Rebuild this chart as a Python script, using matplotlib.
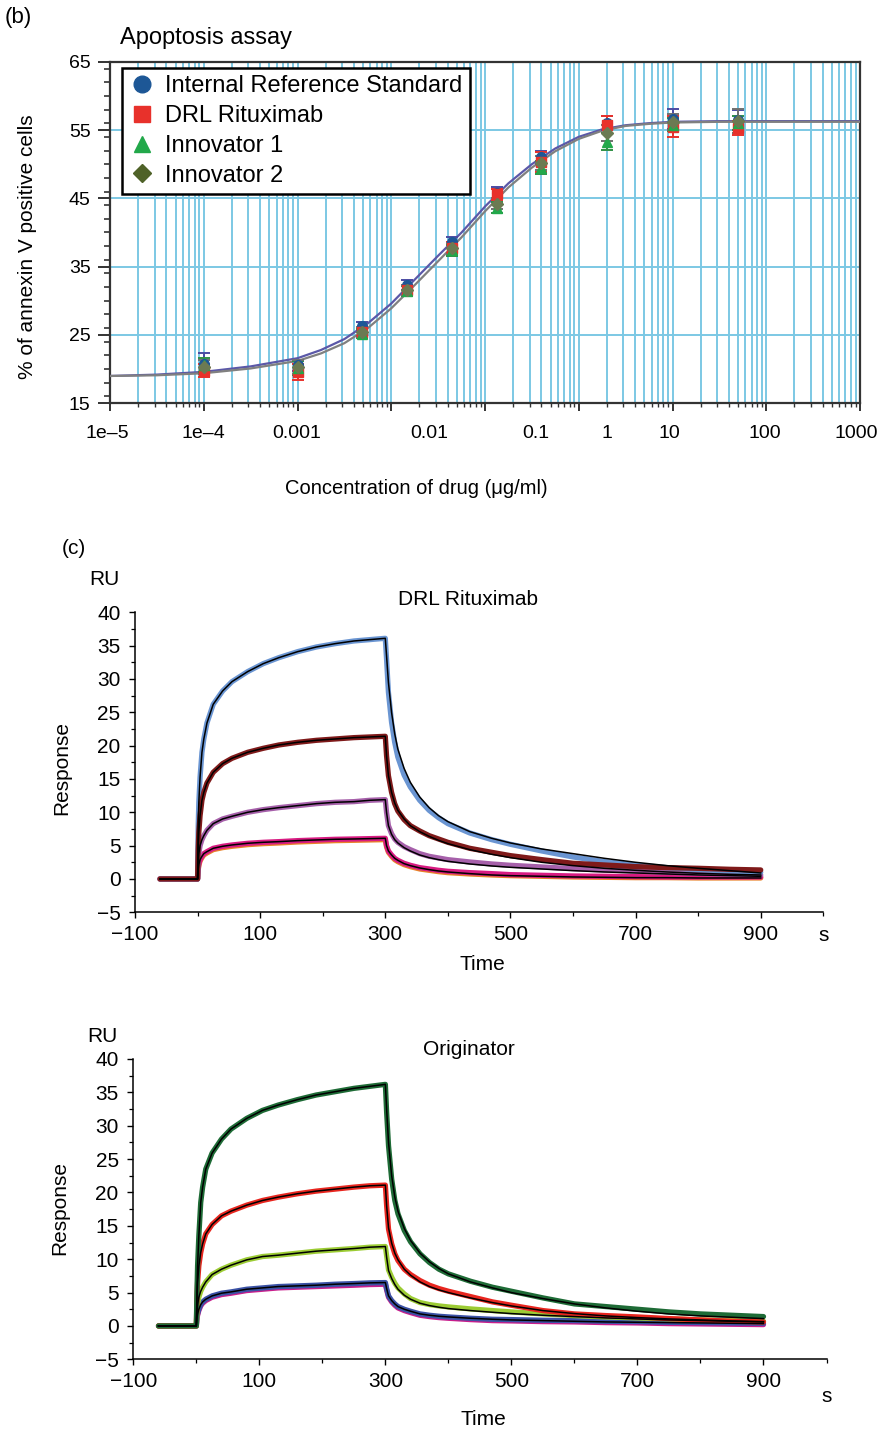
import numpy as np
import matplotlib
matplotlib.use('Agg')
import matplotlib.pyplot as plt
import matplotlib.transforms as mtransforms
from matplotlib.ticker import LogLocator, NullFormatter, MultipleLocator, FixedLocator
from matplotlib.lines import Line2D

plt.rcParams['font.family'] = ['Liberation Sans', 'DejaVu Sans']

# ---------------- (b) apoptosis assay ----------------
conc = [1e-4, 1e-3, 0.0049, 0.0148, 0.044, 0.133, 0.4, 2, 10, 50]
irs = [20.8, 20.6, 26.3, 32.3, 38.6, 45.8, 51.0, 56.0, 56.6, 56.5]
irs_err = [1.5, 0.8, 0.6, 0.7, 0.8, 0.8, 1.0, 1.0, 1.5, 1.5]
drl = [19.8, 19.6, 25.5, 31.6, 37.8, 45.6, 50.3, 55.8, 55.5, 55.3]
drl_err = [1.0, 1.2, 0.7, 0.7, 0.8, 0.8, 1.5, 1.2, 1.5, 1.0]
inno1 = [20.6, 20.2, 25.2, 31.4, 37.4, 43.6, 49.5, 53.3, 55.8, 56.0]
inno1_err = [1.0, 1.0, 0.7, 0.7, 0.8, 0.8, 1.0, 1.2, 1.0, 1.0]
inno2 = [20.3, 20.3, 25.4, 31.6, 37.7, 44.2, 50.2, 54.6, 56.2, 56.3]
inno2_err = [1.0, 1.0, 0.7, 0.7, 0.8, 0.8, 1.0, 1.2, 1.2, 1.8]

fit_logx = [-5, -4.5, -4, -3.5, -3, -2.75, -2.5, -2.25, -2, -1.75, -1.5, -1.25,
            -1, -0.75, -0.5, -0.25, 0, 0.25, 0.5, 0.75, 1, 1.5, 2, 3]
fit_upper = [19.0, 19.2, 19.6, 20.4, 21.6, 22.8, 24.4, 26.7, 29.6, 33.1, 36.6, 40.0,
             43.8, 47.2, 50.0, 52.3, 54.0, 55.1, 55.7, 56.0, 56.2, 56.3, 56.3, 56.3]
fit_lower = [19.0, 19.1, 19.4, 20.1, 21.2, 22.3, 23.8, 26.0, 28.9, 32.3, 35.8, 39.3,
             43.1, 46.6, 49.5, 51.9, 53.7, 54.9, 55.6, 55.9, 56.1, 56.2, 56.2, 56.2]

xtick_text = ['1e–5', '1e–4', '0.001', '0.01', '0.1', '1', '10', '100', '1000']
xtick_logpos = [-5.03, -4.0, -3.01, -1.59, -0.455, 0.305, 0.963, 1.98, 2.96]

series_names = ['Internal Reference Standard', 'DRL Rituximab', 'Innovator 1', 'Innovator 2']

# ---------------- (c) SPR sensorgrams ----------------
t_base = [-60, 0]
t_assoc = [0, 1, 2, 4, 7, 10, 15, 25, 40, 55, 80, 105, 130, 160, 190, 220, 250, 275, 300]
t_dissoc = [300, 302, 305, 310, 315, 320, 330, 340, 355, 370, 385, 400, 435, 470,
            500, 550, 600, 650, 700, 750, 800, 850, 900]

# DRL Rituximab
drl_blue_a = [0, 8, 11.5, 15.3, 19.0, 21.0, 23.4, 26.2, 28.2, 29.6, 31.1, 32.3, 33.2,
              34.1, 34.8, 35.3, 35.7, 35.9, 36.1]
drl_blue_d = [36.1, 33.0, 28.0, 23.5, 20.5, 18.3, 15.6, 13.8, 11.8, 10.3, 9.2, 8.3, 6.9,
              5.9, 5.2, 4.2, 3.3, 2.6, 2.1, 1.7, 1.4, 1.2, 1.0]
drl_blue_fit = [36.1, 33.5, 29.5, 25.0, 21.8, 19.5, 16.6, 14.5, 12.3, 10.7, 9.5, 8.6, 7.1,
                6.1, 5.4, 4.5, 3.8, 3.1, 2.5, 2.0, 1.6, 1.25, 0.9]
drl_maroon_a = [0, 4.5, 7, 9.5, 11.8, 13.0, 14.4, 16.0, 17.3, 18.1, 19.0, 19.6, 20.1,
                20.5, 20.8, 21.0, 21.2, 21.3, 21.4]
drl_maroon_d = [21.4, 18.5, 15.5, 13.0, 11.3, 10.2, 8.9, 8.0, 7.2, 6.5, 6.0, 5.5, 4.6,
                4.0, 3.5, 2.9, 2.35, 2.1, 1.85, 1.7, 1.6, 1.45, 1.35]
drl_maroon_fit = [21.4, 18.5, 15.5, 13.0, 11.4, 10.3, 9.0, 8.0, 7.1, 6.4, 5.8, 5.3, 4.4,
                  3.7, 3.2, 2.5, 2.0, 1.6, 1.3, 1.05, 0.85, 0.7, 0.6]
drl_purple_a = [0, 2.5, 3.8, 5.0, 5.9, 6.5, 7.3, 8.3, 9.0, 9.4, 10.0, 10.4, 10.7, 11.0,
                11.3, 11.5, 11.6, 11.8, 11.9]
drl_purple_d = [11.9, 10.0, 8.0, 6.8, 6.0, 5.5, 4.85, 4.4, 3.8, 3.4, 3.15, 2.9, 2.55,
                2.25, 2.05, 1.8, 1.55, 1.35, 1.2, 1.0, 0.85, 0.7, 0.6]
drl_purple_fit = [11.9, 10.0, 8.0, 6.7, 5.9, 5.4, 4.7, 4.2, 3.6, 3.2, 2.9, 2.65, 2.25,
                  1.95, 1.75, 1.5, 1.25, 1.05, 0.9, 0.75, 0.6, 0.5, 0.4]
drl_pink_a = [0, 1.5, 2.2, 2.9, 3.4, 3.8, 4.1, 4.6, 4.9, 5.1, 5.35, 5.5, 5.6, 5.75,
              5.85, 5.95, 6.0, 6.05, 6.1]
drl_pink_d = [6.1, 5.0, 4.2, 3.6, 3.1, 2.8, 2.35, 2.05, 1.7, 1.5, 1.3, 1.15, 0.95, 0.8,
              0.65, 0.55, 0.45, 0.4, 0.35, 0.3, 0.3, 0.3, 0.3]
drl_pink_fit = [6.1, 5.0, 4.2, 3.6, 3.1, 2.8, 2.3, 2.0, 1.65, 1.4, 1.2, 1.05, 0.8, 0.6,
                0.5, 0.4, 0.3, 0.25, 0.2, 0.2, 0.15, 0.15, 0.15]
drl_orange_a = [0, 1.3, 2.0, 2.7, 3.2, 3.6, 3.9, 4.4, 4.7, 4.9, 5.15, 5.3, 5.4, 5.55,
                5.65, 5.75, 5.8, 5.85, 5.9]
drl_orange_d = [5.9, 4.8, 4.0, 3.4, 2.9, 2.6, 2.15, 1.85, 1.5, 1.3, 1.1, 0.95, 0.75, 0.6,
                0.5, 0.4, 0.3, 0.25, 0.2, 0.2, 0.15, 0.15, 0.15]

# Originator
ori_green_a = [0, 5, 9, 13.5, 18.5, 20.8, 23.5, 25.9, 28.0, 29.5, 31.1, 32.3, 33.1,
               33.9, 34.6, 35.1, 35.6, 35.9, 36.2]
ori_green_d = [36.2, 32.0, 27.0, 22.0, 18.8, 16.8, 14.3, 12.6, 10.8, 9.5, 8.5, 7.8, 6.7,
               5.8, 5.2, 4.2, 3.3, 2.9, 2.5, 2.1, 1.8, 1.6, 1.4]
ori_green_fit = [36.2, 32.5, 27.5, 22.5, 19.3, 17.2, 14.6, 12.8, 10.9, 9.6, 8.6, 7.8, 6.6,
                 5.7, 5.0, 4.1, 3.3, 2.7, 2.2, 1.8, 1.5, 1.3, 1.1]
ori_red_a = [0, 4, 6.5, 9, 11.0, 12.3, 13.8, 15.2, 16.5, 17.2, 18.1, 18.8, 19.3, 19.8,
             20.2, 20.5, 20.8, 21.0, 21.1]
ori_red_d = [21.1, 18.0, 14.5, 12.3, 10.8, 9.8, 8.5, 7.7, 6.8, 6.1, 5.6, 5.2, 4.4, 3.6,
             3.1, 2.3, 1.8, 1.55, 1.35, 1.1, 0.9, 0.7, 0.6]
ori_red_fit = [21.1, 18.0, 14.7, 12.4, 10.9, 9.9, 8.5, 7.6, 6.6, 5.9, 5.4, 5.0, 4.2, 3.5,
               3.0, 2.3, 1.85, 1.5, 1.25, 1.05, 0.9, 0.75, 0.65]
ori_lime_a = [0, 2.2, 3.2, 4.3, 5.2, 5.8, 6.6, 7.7, 8.5, 9.1, 9.9, 10.4, 10.6, 10.9,
              11.2, 11.4, 11.6, 11.8, 11.9]
ori_lime_d = [11.9, 10.5, 8.4, 7.3, 6.4, 5.7, 4.8, 4.1, 3.5, 3.2, 3.0, 2.85, 2.55, 2.3,
              2.1, 1.8, 1.55, 1.35, 1.2, 1.05, 0.9, 0.8, 0.7]
ori_lime_fit = [11.9, 10.3, 8.3, 7.1, 6.2, 5.5, 4.6, 4.0, 3.4, 3.05, 2.8, 2.6, 2.3, 2.05,
                1.85, 1.6, 1.4, 1.2, 1.05, 0.9, 0.8, 0.7, 0.6]
ori_navy_a = [0, 1.2, 1.8, 2.5, 3.2, 3.6, 4.0, 4.5, 4.9, 5.1, 5.5, 5.7, 5.9, 6.0, 6.1,
              6.25, 6.35, 6.45, 6.5]
ori_navy_d = [6.5, 5.6, 4.5, 3.8, 3.3, 2.9, 2.5, 2.2, 1.8, 1.6, 1.45, 1.35, 1.15, 1.0,
              0.95, 0.85, 0.8, 0.7, 0.65, 0.55, 0.5, 0.45, 0.4]
ori_navy_fit = [6.5, 5.6, 4.5, 3.8, 3.3, 2.9, 2.5, 2.2, 1.8, 1.6, 1.45, 1.35, 1.15, 1.0,
                0.9, 0.8, 0.7, 0.6, 0.55, 0.5, 0.45, 0.4, 0.35]
ori_mag_a = [0, 1.0, 1.6, 2.3, 3.0, 3.4, 3.8, 4.3, 4.7, 4.9, 5.3, 5.5, 5.7, 5.8, 5.9,
             6.0, 6.1, 6.2, 6.25]
ori_mag_d = [6.25, 5.4, 4.3, 3.6, 3.1, 2.7, 2.3, 2.0, 1.6, 1.4, 1.25, 1.15, 0.95, 0.8,
             0.75, 0.65, 0.6, 0.5, 0.45, 0.35, 0.3, 0.25, 0.2]

W, H = 882, 1430
fig = plt.figure(figsize=(W / 100, H / 100), dpi=100)


def rect(left, top, right, bottom):
    return [left / W, 1 - bottom / H, (right - left) / W, (bottom - top) / H]


# ---------- panel b ----------
ax = fig.add_axes(rect(110, 61.7, 860, 403.3))
ax.set_xscale('log')
ax.set_xlim(1e-5, 1e3)
ax.set_ylim(15, 65)
grid_c = '#7cc8e4'
ax.xaxis.set_major_locator(LogLocator(base=10, numticks=20))
ax.xaxis.set_minor_locator(LogLocator(base=10, subs=np.arange(2, 10), numticks=20))
ax.xaxis.set_major_formatter(NullFormatter())
ax.xaxis.set_minor_formatter(NullFormatter())
ax.yaxis.set_major_locator(FixedLocator([15, 25, 35, 45, 55, 65]))
ax.yaxis.set_minor_locator(MultipleLocator(2))
ax.grid(which='both', axis='x', color=grid_c, lw=1.4, zorder=0)
ax.grid(which='major', axis='y', color=grid_c, lw=1.4, zorder=0)
ax.set_axisbelow(True)
for s in ax.spines.values():
    s.set_color('#333333')
    s.set_linewidth(1.6)
ax.tick_params(axis='y', which='major', length=9, width=1.4, labelsize=14, pad=5, color='#333333')
ax.tick_params(axis='y', which='minor', length=4, width=1.2, color='#333333')
ax.tick_params(axis='x', which='major', length=6, width=1.4, color='#333333')
ax.tick_params(axis='x', which='minor', length=3, width=1.0, color='#333333')

fx = [10 ** v for v in fit_logx]
ax.plot(fx, fit_upper, color='#5b58a8', lw=1.6, zorder=3)
ax.plot(fx, fit_lower, color='#808080', lw=1.6, zorder=3)

styles = [(irs, irs_err, 'o', '#1d5796', '#4b4ba3'),
          (drl, drl_err, 's', '#e8312b', '#e8312b'),
          (inno1, inno1_err, '^', '#22a84a', '#2f8f45'),
          (inno2, inno2_err, 'D', '#6b7a52', '#707070')]
for vals, err, mk, fc, ec in styles:
    ax.errorbar(conc, vals, yerr=err, fmt=mk, ms=7 if mk != 'D' else 6, color=fc,
                ecolor=ec, elinewidth=1.4, capsize=4, capthick=1.4, zorder=4)

handles = [Line2D([], [], ls='none', marker=mk, ms=12 if mk != 'D' else 9,
                  color=fc, mec=fc) for _, _, mk, fc, _ in styles]
handles[3].set_color('#4f6228')
handles[3].set_markeredgecolor('#4f6228')
leg = ax.legend(handles, series_names, loc='upper left', bbox_to_anchor=(0.0156, 0.9807),
                borderaxespad=0, fontsize=17, frameon=True, fancybox=False, framealpha=1,
                edgecolor='black', handlelength=1.1, handletextpad=0.45, labelspacing=0.33,
                borderpad=0.3)
leg.get_frame().set_linewidth(1.8)
leg.set_zorder(6)

blend = mtransforms.blended_transform_factory(ax.transData, ax.transAxes)
for p, s in zip(xtick_logpos, xtick_text):
    ax.text(10 ** p, -0.087, s, transform=blend, ha='center', va='center', fontsize=14)

ax.set_ylabel('% of annexin V positive cells', fontsize=15)
ax.yaxis.set_label_coords(-0.097, 0.4575)
ax.set_xlabel('Concentration of drug (μg/ml)', fontsize=14.5)
ax.xaxis.set_label_coords(0.408, -0.222)

fig.text(120 / W, 1 - 38 / H, 'Apoptosis assay', fontsize=17, ha='left', va='center')
fig.text(5 / W, 1 - 17 / H, '(b)', fontsize=16, ha='left', va='center')
fig.text(62 / W, 1 - 548 / H, '(c)', fontsize=15, ha='left', va='center')


# ---------- panel c ----------
def spr_axes(r, title, title_y, ru_y, time_y, s_y, resp_y, curves, fits):
    a = fig.add_axes(r)
    a.set_xlim(-100, 1000)
    a.set_ylim(-5, 40)
    for k in ['top', 'right']:
        a.spines[k].set_visible(False)
    for k in ['left', 'bottom']:
        a.spines[k].set_linewidth(1.1)
    a.xaxis.set_major_locator(FixedLocator([-100, 100, 300, 500, 700, 900]))
    a.xaxis.set_minor_locator(FixedLocator([0, 200, 400, 600, 800, 1000]))
    a.yaxis.set_major_locator(MultipleLocator(5))
    a.yaxis.set_minor_locator(MultipleLocator(2.5))
    a.tick_params(which='major', length=4.5, width=1.0, labelsize=15)
    a.tick_params(axis='y', which='major', pad=6)
    a.tick_params(axis='x', which='major', pad=5)
    a.tick_params(which='minor', length=3, width=0.9)

    for col, va, vd in curves:
        t = t_base + t_assoc + t_dissoc
        v = [0, 0] + va + vd
        a.plot(t, v, color=col, lw=3.8, solid_joinstyle='round', solid_capstyle='round',
               zorder=2)
    for va, vd in fits:
        t = t_base + t_assoc + t_dissoc
        v = [0, 0] + va + vd
        a.plot(t, v, color='black', lw=1.1, zorder=3)

    a.text(0.4835, title_y, title, transform=a.transAxes, ha='center', va='center',
           fontsize=15)
    a.text(-0.045, ru_y, 'RU', transform=a.transAxes, ha='center', va='center', fontsize=15)
    a.text(1000, s_y, 's', transform=mtransforms.blended_transform_factory(a.transData, a.transAxes),
           ha='center', va='center', fontsize=15)
    a.set_ylabel('Response', fontsize=15)
    a.yaxis.set_label_coords(-0.092, resp_y)
    a.set_xlabel('Time', fontsize=15)
    a.xaxis.set_label_coords(0.505, time_y)
    return a


spr_axes(rect(135, 612.3, 823.3, 912.3), 'DRL Rituximab', 1.041, 1.1077, -0.142, -0.076, 0.481,
         [('#e8822a', drl_orange_a, drl_orange_d),
          ('#d81b82', drl_pink_a, drl_pink_d),
          ('#a660aa', drl_purple_a, drl_purple_d),
          ('#6a95d2', drl_blue_a, drl_blue_d),
          ('#7f1a1a', drl_maroon_a, drl_maroon_d)],
         [(drl_blue_a, drl_blue_fit), (drl_maroon_a, drl_maroon_fit),
          (drl_purple_a, drl_purple_fit), (drl_pink_a, drl_pink_fit)])

spr_axes(rect(133.3, 1059, 826.5, 1359.3), 'Originator', 1.03, 1.0743, -0.169, -0.1245, 0.504,
         [('#c81e8c', ori_mag_a, ori_mag_d),
          ('#3b52a5', ori_navy_a, ori_navy_d),
          ('#9ccc34', ori_lime_a, ori_lime_d),
          ('#e8261f', ori_red_a, ori_red_d),
          ('#1e6b36', ori_green_a, ori_green_d)],
         [(ori_green_a, ori_green_fit), (ori_red_a, ori_red_fit),
          (ori_lime_a, ori_lime_fit), (ori_navy_a, ori_navy_fit)])

fig.savefig('out.png', dpi=100)
